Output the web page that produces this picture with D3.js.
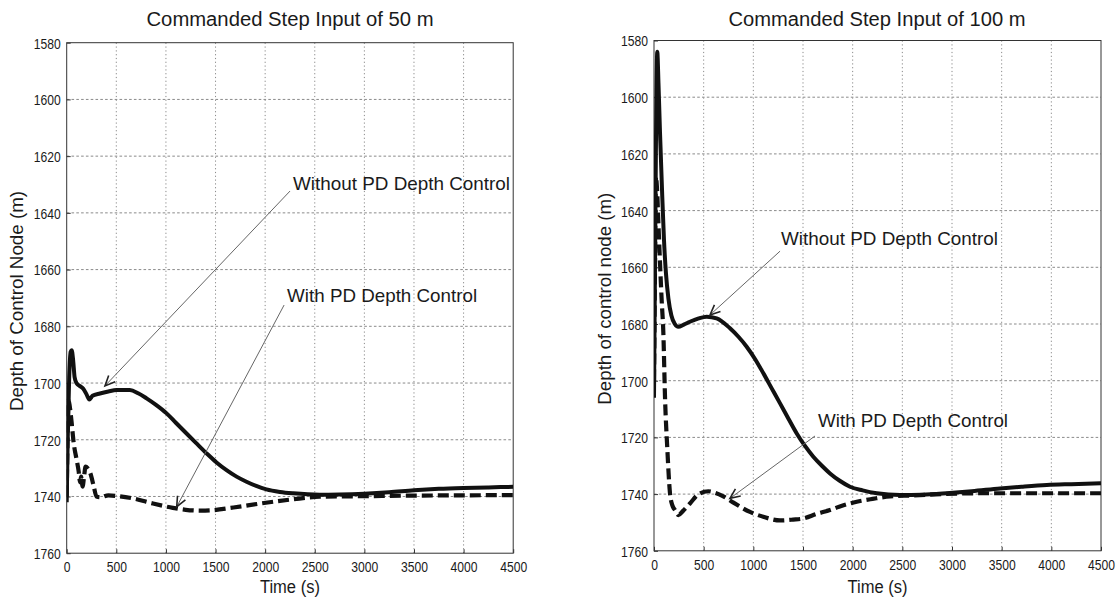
<!DOCTYPE html>
<html>
<head>
<meta charset="utf-8">
<script src="https://cdn.jsdelivr.net/npm/d3@7"></script>
<style>
  body { margin: 0; background: #fff; }
  svg { display: block; }
  text { font-family: "Liberation Sans Narrow", "Arial Narrow", "Liberation Sans", Arial, sans-serif; fill: #1a1a1a; }
</style>
</head>
<body>
<svg id="chart" width="1120" height="598"></svg>
<script>
// Axis ticks shared by both panels
const timeTicks = [0, 500, 1000, 1500, 2000, 2500, 3000, 3500, 4000, 4500];
const depthTicks = [1580, 1600, 1620, 1640, 1660, 1680, 1700, 1720, 1740, 1760];

const titles = ["Commanded Step Input of 50 m", "Commanded Step Input of 100 m"];
const yLabels = ["Depth of Control Node (m)", "Depth of control node (m)"];
const xLabel = "Time (s)";
const withoutLabel = "Without PD Depth Control";
const withLabel = "With PD Depth Control";

// Control node depth [time (s), depth (m)], 50 m commanded step
const step50Without = [
  [0, 1742], [10, 1720], [25, 1698], [40, 1689], [50, 1688.4], [65, 1692], [80, 1698],
  [100, 1700.1], [130, 1701], [167, 1702], [200, 1704], [228, 1705.8], [260, 1704.5],
  [335, 1703.7], [420, 1703], [503, 1702.5], [637, 1702.5], [720, 1703.6], [805, 1705.4],
  [900, 1707.7], [1007, 1710.7], [1100, 1714], [1208, 1717.8], [1300, 1721], [1410, 1724.8],
  [1510, 1728], [1611, 1730.7], [1712, 1733], [1812, 1734.8], [1910, 1736.3], [2013, 1737.5],
  [2150, 1738.4], [2282, 1738.9], [2550, 1739.4], [2750, 1739.3], [3000, 1739], [3250, 1738.5],
  [3500, 1737.8], [3750, 1737.3], [4000, 1737], [4250, 1736.8], [4500, 1736.6]
];
const step50With = [
  [0, 1740], [8, 1720], [18, 1706], [30, 1708], [50, 1714], [70, 1721], [100, 1727],
  [120, 1731], [135, 1735], [145, 1733], [160, 1736.5], [175, 1733], [190, 1729.5],
  [210, 1730], [240, 1732], [270, 1736], [300, 1740], [340, 1740.3], [420, 1739.6],
  [500, 1739.8], [670, 1740.7], [870, 1742.5], [1070, 1744], [1200, 1744.7], [1350, 1745],
  [1450, 1744.9], [1680, 1743.9], [1950, 1742.5], [2280, 1741], [2550, 1740.1], [3000, 1739.9],
  [3500, 1739.7], [4000, 1739.6], [4500, 1739.5]
];

// Control node depth [time (s), depth (m)], 100 m commanded step
const step100Without = [
  [0, 1706], [10, 1660], [20, 1615], [33, 1584], [45, 1595], [60, 1612], [80, 1632],
  [100, 1650], [120, 1662], [145, 1671], [175, 1677], [210, 1680], [245, 1681], [300, 1680.2],
  [362, 1679.2], [450, 1678], [531, 1677.4], [631, 1678], [765, 1681.5], [850, 1684.5],
  [933, 1688], [1020, 1692.5], [1101, 1697.4], [1185, 1702.7], [1269, 1708], [1355, 1713.5],
  [1437, 1718.6], [1520, 1723], [1604, 1726.8], [1690, 1730], [1772, 1732.7], [1870, 1735.3],
  [1973, 1737.4], [2100, 1738.7], [2242, 1739.7], [2477, 1740.3], [2700, 1740.2],
  [2947, 1739.7], [3200, 1739], [3484, 1738], [3700, 1737.4], [3954, 1736.8], [4200, 1736.5],
  [4500, 1736.2]
];
const step100With = [
  [0, 1700], [10, 1660], [20, 1628], [30, 1632], [45, 1645], [60, 1658], [77, 1671.5],
  [94, 1683], [111, 1706], [134, 1724], [161, 1739.7], [185, 1744], [211, 1745.6],
  [245, 1747.4], [290, 1746], [362, 1743.3], [450, 1740], [547, 1739], [620, 1739.6],
  [698, 1740.8], [800, 1743], [966, 1746.3], [1100, 1748], [1269, 1749.3], [1400, 1749],
  [1504, 1748.6], [1638, 1747], [1772, 1745.6], [1900, 1744], [2041, 1742.7], [2200, 1741.7],
  [2376, 1740.8], [2600, 1740.5], [2900, 1740], [3283, 1739.7], [3700, 1739.7],
  [4100, 1739.7], [4500, 1739.7]
];

// Panel layout: plot box in pixels, arrow callouts in data units
const panels = [
  {
    left: 66.7, right: 513.2, top: 42.7, bottom: 553.2,
    title: titles[0], titleX: 290, yLabel: yLabels[0], yLabelX: 23, yLabelLen: 220,
    without: step50Without, withPD: step50With,
    notes: [
      { text: withoutLabel, tip: [386, 1701.0], tail: [2251, 1632.3], dx: 3, dy: -1, len: 217 },
      { text: withLabel, tip: [1109, 1743.6], tail: [2191, 1672.5], dx: 3, dy: -3, len: 190 }
    ]
  },
  {
    left: 654, right: 1101, top: 40.5, bottom: 550.8,
    title: titles[1], titleX: 877, yLabel: yLabels[1], yLabelX: 611, yLabelLen: 212,
    without: step100Without, withPD: step100With,
    notes: [
      { text: withoutLabel, tip: [564, 1676.8], tail: [1269, 1654.3], dx: 1, dy: -6, len: 217 },
      { text: withLabel, tip: [765, 1741.5], tail: [1621, 1719.5], dx: 3, dy: -9, len: 190 }
    ]
  }
];

const svg = d3.select("#chart");

panels.forEach((p, i) => {
  const x = d3.scaleLinear().domain([0, 4500]).range([p.left, p.right]);
  const y = d3.scaleLinear().domain([1580, 1760]).range([p.top, p.bottom]);
  const g = svg.append("g");

  // dotted grid
  g.append("g").selectAll("line").data(timeTicks.slice(1, -1)).join("line")
    .attr("x1", d => x(d)).attr("x2", d => x(d))
    .attr("y1", p.top).attr("y2", p.bottom)
    .attr("stroke", "#8a8a8a").attr("stroke-width", 1).attr("stroke-dasharray", "1.2,2.6");
  g.append("g").selectAll("line").data(depthTicks.slice(1, -1)).join("line")
    .attr("y1", d => y(d)).attr("y2", d => y(d))
    .attr("x1", p.left).attr("x2", p.right)
    .attr("stroke", "#8a8a8a").attr("stroke-width", 1).attr("stroke-dasharray", "2.6,2.2");

  // axes with inward ticks
  const xAxis = g.append("g").attr("transform", `translate(0,${p.bottom})`)
    .call(d3.axisBottom(x).tickValues(timeTicks).tickSize(-4).tickPadding(8).tickFormat(d3.format("d")));
  const yAxis = g.append("g").attr("transform", `translate(${p.left},0)`)
    .call(d3.axisLeft(y).tickValues(depthTicks).tickSize(-4).tickPadding(6).tickFormat(d3.format("d")));
  [xAxis, yAxis].forEach(a => {
    a.select(".domain").remove();
    a.selectAll(".tick line").attr("stroke", "#333");
    a.selectAll(".tick text")
      .style("font-size", "15px")
      .attr("textLength", function () { return this.textContent.length * 6.75; })
      .attr("lengthAdjust", "spacingAndGlyphs");
  });
  xAxis.selectAll(".tick text").attr("dy", "0.72em");
  yAxis.selectAll(".tick text").attr("dy", "0.36em");

  // box
  g.append("rect").attr("x", p.left).attr("y", p.top)
    .attr("width", p.right - p.left).attr("height", p.bottom - p.top)
    .attr("fill", "none").attr("stroke", "#333").attr("stroke-width", 1);

  // clipped data lines
  const clipId = "clip" + i;
  svg.append("clipPath").attr("id", clipId).append("rect")
    .attr("x", p.left).attr("y", p.top - 2)
    .attr("width", p.right - p.left).attr("height", p.bottom - p.top + 2);
  const line = d3.line().x(d => x(d[0])).y(d => y(d[1])).curve(d3.curveMonotoneX);
  const plot = g.append("g").attr("clip-path", `url(#${clipId})`);
  plot.append("path").datum(p.withPD).attr("d", line)
    .attr("fill", "none").attr("stroke", "#111").attr("stroke-width", 4.2)
    .attr("stroke-dasharray", "11,5").attr("stroke-linejoin", "round");
  plot.append("path").datum(p.without).attr("d", line)
    .attr("fill", "none").attr("stroke", "#111").attr("stroke-width", 4)
    .attr("stroke-linejoin", "round");

  // titles and axis labels
  g.append("text").attr("x", p.titleX).attr("y", 26).attr("text-anchor", "middle")
    .style("font-size", "20px").attr("textLength", i === 0 ? 287 : 297)
    .attr("lengthAdjust", "spacingAndGlyphs").text(p.title);
  g.append("text").attr("x", (p.left + p.right) / 2).attr("y", 593).attr("text-anchor", "middle")
    .style("font-size", "18px").attr("textLength", 60)
    .attr("lengthAdjust", "spacingAndGlyphs").text(xLabel);
  g.append("text")
    .attr("transform", `translate(${p.yLabelX},${(p.top + p.bottom) / 2 + 3}) rotate(-90)`)
    .attr("text-anchor", "middle").style("font-size", "18px")
    .attr("textLength", p.yLabelLen).attr("lengthAdjust", "spacingAndGlyphs").text(p.yLabel);

  // arrow callouts
  p.notes.forEach(n => {
    const tx = x(n.tip[0]), ty = y(n.tip[1]);
    const sx = x(n.tail[0]), sy = y(n.tail[1]);
    g.append("line").attr("x1", sx).attr("y1", sy).attr("x2", tx).attr("y2", ty)
      .attr("stroke", "#666").attr("stroke-width", 1);
    const ang = Math.atan2(sy - ty, sx - tx);
    const L = 11, spread = 0.42;
    const a1 = [tx + L * Math.cos(ang - spread), ty + L * Math.sin(ang - spread)];
    const a2 = [tx + L * Math.cos(ang + spread), ty + L * Math.sin(ang + spread)];
    g.append("path").attr("d", `M${a1[0]},${a1[1]}L${tx},${ty}L${a2[0]},${a2[1]}`)
      .attr("fill", "none").attr("stroke", "#222").attr("stroke-width", 1.6);
    g.append("text").attr("x", sx + n.dx).attr("y", sy + n.dy)
      .style("font-size", "19px").attr("textLength", n.len)
      .attr("lengthAdjust", "spacingAndGlyphs").text(n.text);
  });
});
</script>
</body>
</html>
